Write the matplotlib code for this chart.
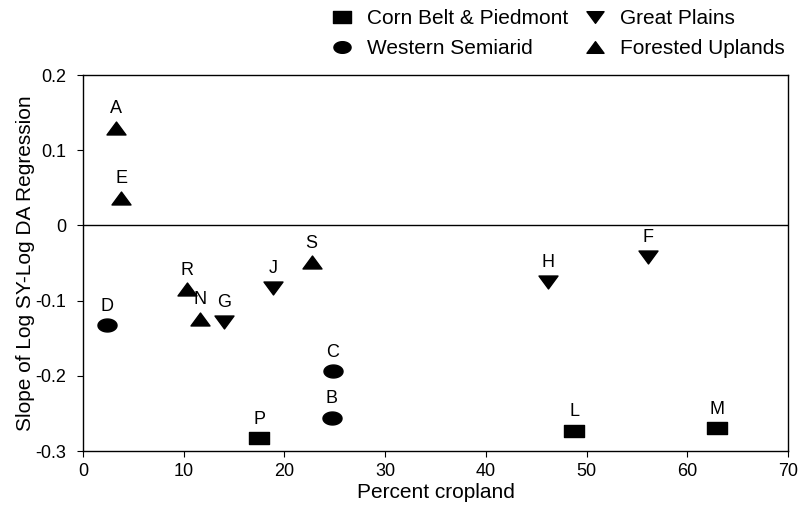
import numpy as np
import matplotlib
matplotlib.use("Agg")
import matplotlib.pyplot as plt
from matplotlib.path import Path
from matplotlib.ticker import FuncFormatter

plt.rcParams['font.family'] = ['Liberation Sans', 'DejaVu Sans']

# Corn Belt & Piedmont
corn_labels = ["P", "L", "M"]
corn_x = [17.5, 48.8, 63.0]
corn_y = [-0.283, -0.273, -0.270]

# Western Semiarid
west_labels = ["D", "C", "B"]
west_x = [2.4, 24.8, 24.7]
west_y = [-0.133, -0.194, -0.256]

# Great Plains
plains_labels = ["G", "J", "H", "F"]
plains_x = [14.0, 18.9, 46.2, 56.1]
plains_y = [-0.128, -0.083, -0.075, -0.042]

# Forested Uplands
forest_labels = ["A", "E", "R", "N", "S"]
forest_x = [3.3, 3.8, 10.3, 11.6, 22.7]
forest_y = [0.13, 0.037, -0.085, -0.124, -0.049]

x_ticks = [0, 10, 20, 30, 40, 50, 60, 70]
y_ticks = [-0.3, -0.2, -0.1, 0, 0.1, 0.2]

# markers look squashed vertically in the scan
flat = 0.68
sq_marker = Path([(-1, -flat), (1, -flat), (1, flat), (-1, flat), (-1, -flat)], closed=True)
t = np.linspace(0, 2 * np.pi, 60)
ell_marker = Path(np.column_stack([np.cos(t), flat * np.sin(t)]), closed=True)
down_marker = Path([(-1, flat), (1, flat), (0, -flat), (-1, flat)], closed=True)
up_marker = Path([(-1, -flat), (1, -flat), (0, flat), (-1, -flat)], closed=True)

fig, ax = plt.subplots(figsize=(7.99, 5.09), dpi=100)
plt.subplots_adjust(left=83 / 799, right=788 / 799, top=1 - 75 / 509, bottom=1 - 451 / 509)

groups = [
    ("Corn Belt & Piedmont", corn_x, corn_y, corn_labels, sq_marker),
    ("Western Semiarid", west_x, west_y, west_labels, ell_marker),
    ("Great Plains", plains_x, plains_y, plains_labels, down_marker),
    ("Forested Uplands", forest_x, forest_y, forest_labels, up_marker),
]

handles = []
for name, xs, ys, labs, mk in groups:
    h, = ax.plot(xs, ys, linestyle="none", marker=mk, markersize=13.7,
                 color="black", label=name)
    handles.append(h)
    for xi, yi, lab in zip(xs, ys, labs):
        ax.annotate(lab, (xi, yi), xytext=(0, 13.7), textcoords="offset points",
                    ha="center", va="center", fontsize=13)

ax.axhline(0, color="black", linewidth=1)

ax.set_xlim(0, 70)
ax.set_ylim(-0.3, 0.2)
ax.set_xticks(x_ticks)
ax.set_yticks(y_ticks)
ax.yaxis.set_major_formatter(FuncFormatter(lambda v, p: f"{v:g}"))
ax.tick_params(axis="both", direction="out", length=4, width=0.8, labelsize=13)
ax.tick_params(axis="x", pad=5)
ax.tick_params(axis="y", pad=8)
for sp in ax.spines.values():
    sp.set_linewidth(1)
    sp.set_color("black")

ax.set_xlabel("Percent cropland", fontsize=15, labelpad=2)
ax.set_ylabel("Slope of Log SY-Log DA Regression", fontsize=15, labelpad=0)

fig.legend(handles=handles, ncol=2, loc="upper left",
           bbox_to_anchor=(332 / 799, 1 - 9 / 509), frameon=False,
           fontsize=15, handlelength=1.0, handletextpad=0.7,
           columnspacing=0.75, labelspacing=0.54, borderpad=0, borderaxespad=0,
           numpoints=1, markerscale=0.9)

plt.savefig("out.png", dpi=100)
